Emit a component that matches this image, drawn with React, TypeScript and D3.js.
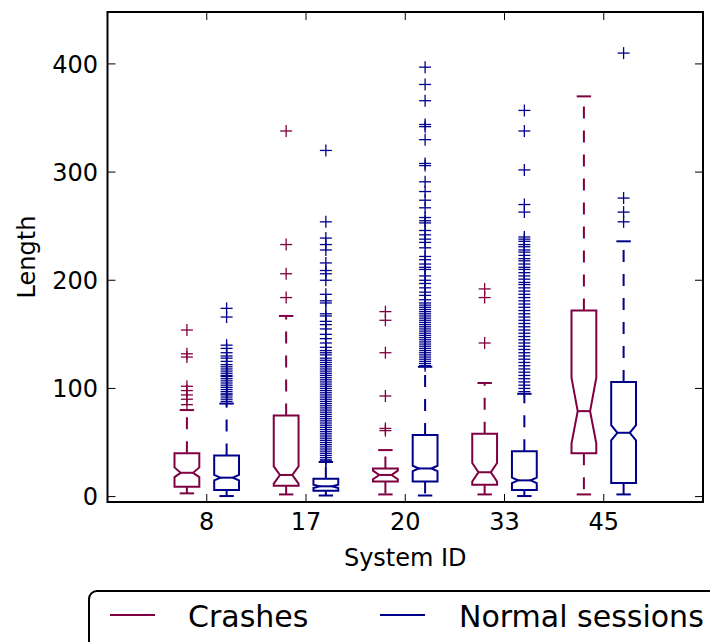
import * as d3 from "d3";

// System IDs along the x axis
const systems = ["8", "17", "20", "33", "45"];
const yTicks = [0, 100, 200, 300, 400];

// Crashes: box statistics
const crashQ1 = [9, 10, 14, 11, 40];
const crashMedian = [22, 20, 20, 22.5, 79];
const crashQ3 = [40, 75, 26, 58, 172];
const crashNotchLo = [18, 12, 16, 14, 49];
const crashNotchHi = [27, 28, 24, 31, 110];
const crashWhiskerLo = [3, 2, 2, 2, 2];
const crashWhiskerHi = [80, 167, 43, 105, 370];
const crashFliers = [
  [154, 132, 129, 102, 98, 94, 90, 85],
  [338, 233, 206, 184],
  [171, 163, 133, 93, 63, 61],
  [192, 184, 142],
  [],
];

// Normal sessions
const normalQ1 = [6, 5.5, 14, 6, 12.6];
const normalMedian = [17.5, 9.5, 26, 15, 59];
const normalQ3 = [38, 16.5, 57, 42, 106];
const normalNotchLo = [15, 8, 23.5, 12.5, 52];
const normalNotchHi = [20, 11, 28.5, 17.5, 66];
const normalWhiskerLo = [0.5, 1, 1, 0.5, 2];
const normalWhiskerHi = [86, 32, 120, 95, 236];
const normalFliers = [
  [174, 166, 140, 137, 133, 130, 128, 125, 122, 120, 118, 116, 114, 112, 111, 109,
    107, 105, 103, 101, 99, 97, 95, 94, 92, 90, 88],
  [320, 254, 239, 233, 228, 216, 209, 206, 200, 187, 181, 179, 169, 167, 162, 159,
    155, 150, 146, 142, 138, 135, 133, 131, 128, 126, 124, 122, 120, 118, 116, 114,
    112, 110, 108, 106, 104, 102, 100, 98, 96, 94, 92, 90, 88, 86, 84, 82, 80, 78,
    76, 74, 72, 70, 68, 66, 64, 62, 60, 58, 56, 54, 52, 50, 48, 46, 44, 42, 40, 38,
    36, 34, 33],
  [397, 381, 366, 344, 342, 330, 308, 306, 291, 282, 274, 267, 258, 255, 253, 246,
    242, 238, 235, 230, 222, 219, 215, 212, 210, 204, 200, 197, 193, 189, 186, 182,
    179, 177, 175, 173, 171, 169, 167, 165, 163, 161, 159, 157, 155, 153, 151, 149,
    147, 145, 143, 141, 139, 137, 135, 133, 131, 129, 127, 125, 123, 121],
  [357, 338, 302, 270, 263, 240, 238, 236, 233, 231, 228, 226, 223, 220, 218, 215,
    212, 210, 207, 204, 201, 198, 196, 193, 190, 187, 184, 181, 178, 175, 172, 169,
    166, 163, 160, 157, 154, 151, 148, 145, 142, 139, 136, 133, 130, 127, 124, 121,
    118, 115, 112, 109, 106, 103, 100, 97],
  [410, 276, 263, 254],
];

const CRASH = "#7f0040";
const NORMAL = "#00008b";

const W = 710;
const H = 642;
const AX = { left: 107.5, right: 703, top: 12, bottom: 502 };
const FONT = "'DejaVu Sans', sans-serif";

const x = d3.scaleLinear().domain([0, 6]).range([AX.left, AX.right]);
const y = d3.scaleLinear().domain([-5, 448]).range([AX.bottom, AX.top]);

const BOX_W = 0.25;
const OFFSET = 0.2;

type BoxProps = {
  pos: number;
  q1: number;
  med: number;
  q3: number;
  nlo: number;
  nhi: number;
  wlo: number;
  whi: number;
  fliers: number[];
  color: string;
};

const Box = ({ pos, q1, med, q3, nlo, nhi, wlo, whi, fliers, color }: BoxProps) => {
  const l = x(pos - BOX_W / 2);
  const r = x(pos + BOX_W / 2);
  const cl = x(pos - BOX_W / 4);
  const cr = x(pos + BOX_W / 4);
  const c = x(pos);
  const path = d3.path();
  path.moveTo(l, y(q1));
  path.lineTo(r, y(q1));
  path.lineTo(r, y(nlo));
  path.lineTo(cr, y(med));
  path.lineTo(r, y(nhi));
  path.lineTo(r, y(q3));
  path.lineTo(l, y(q3));
  path.lineTo(l, y(nhi));
  path.lineTo(cl, y(med));
  path.lineTo(l, y(nlo));
  path.closePath();
  return (
    <g stroke={color} fill="none">
      <line x1={c} x2={c} y1={y(q1)} y2={y(wlo)} strokeWidth={2} strokeDasharray="12,12" />
      <line x1={c} x2={c} y1={y(q3)} y2={y(whi)} strokeWidth={2} strokeDasharray="12,12" />
      <line x1={cl} x2={cr} y1={y(wlo)} y2={y(wlo)} strokeWidth={2} strokeLinecap="square" />
      <line x1={cl} x2={cr} y1={y(whi)} y2={y(whi)} strokeWidth={2} strokeLinecap="square" />
      <path d={path.toString()} strokeWidth={2} strokeLinejoin="miter" />
      <line x1={cl} x2={cr} y1={y(med)} y2={y(med)} strokeWidth={2} />
      {fliers.map((v, i) => (
        <g key={i} strokeWidth={1.3}>
          <line x1={c - 6} x2={c + 6} y1={y(v)} y2={y(v)} />
          <line x1={c} x2={c} y1={y(v) - 6} y2={y(v) + 6} />
        </g>
      ))}
    </g>
  );
};

export default function App() {
  return (
    <svg
      width={W}
      height={H}
      style={{ position: "absolute", left: 0, top: 0, background: "#fff" }}
      fontFamily={FONT}
    >
      <rect width={W} height={H} fill="#fff" />
      {systems.map((s, i) => (
        <g key={s}>
          <Box
            pos={i + 1 - OFFSET}
            q1={crashQ1[i]}
            med={crashMedian[i]}
            q3={crashQ3[i]}
            nlo={crashNotchLo[i]}
            nhi={crashNotchHi[i]}
            wlo={crashWhiskerLo[i]}
            whi={crashWhiskerHi[i]}
            fliers={crashFliers[i]}
            color={CRASH}
          />
          <Box
            pos={i + 1 + OFFSET}
            q1={normalQ1[i]}
            med={normalMedian[i]}
            q3={normalQ3[i]}
            nlo={normalNotchLo[i]}
            nhi={normalNotchHi[i]}
            wlo={normalWhiskerLo[i]}
            whi={normalWhiskerHi[i]}
            fliers={normalFliers[i]}
            color={NORMAL}
          />
        </g>
      ))}

      {/* ticks, inside on all four sides */}
      {systems.map((s, i) => (
        <g key={s} stroke="#000" strokeWidth={1}>
          <line x1={x(i + 1)} x2={x(i + 1)} y1={AX.bottom} y2={AX.bottom - 8} />
          <line x1={x(i + 1)} x2={x(i + 1)} y1={AX.top} y2={AX.top + 8} />
        </g>
      ))}
      {yTicks.map((t) => (
        <g key={t} stroke="#000" strokeWidth={1}>
          <line x1={AX.left} x2={AX.left + 8} y1={y(t)} y2={y(t)} />
          <line x1={AX.right} x2={AX.right - 8} y1={y(t)} y2={y(t)} />
        </g>
      ))}
      <rect
        x={AX.left}
        y={AX.top}
        width={AX.right - AX.left}
        height={AX.bottom - AX.top}
        fill="none"
        stroke="#000"
        strokeWidth={2}
      />

      {/* tick labels */}
      {systems.map((s, i) => (
        <text key={s} x={x(i + 1)} y={530} fontSize={24} textAnchor="middle">
          {s}
        </text>
      ))}
      {yTicks.map((t) => (
        <text key={t} x={98} y={y(t) + 8.7} fontSize={24} textAnchor="end">
          {t}
        </text>
      ))}

      <text x={(AX.left + AX.right) / 2} y={566} fontSize={24} textAnchor="middle">
        System ID
      </text>
      <text
        transform={`translate(35,${(AX.top + AX.bottom) / 2}) rotate(-90)`}
        fontSize={24}
        textAnchor="middle"
      >
        Length
      </text>

      {/* legend */}
      <rect x={89} y={591} width={660} height={90} rx={8} fill="#fff" stroke="#000" strokeWidth={2} />
      <line x1={110} x2={155} y1={615} y2={615} stroke={CRASH} strokeWidth={2} />
      <text x={188} y={627} fontSize={30}>Crashes</text>
      <line x1={380} x2={425} y1={615} y2={615} stroke={NORMAL} strokeWidth={2} />
      <text x={459} y={627} fontSize={30}>Normal sessions</text>
    </svg>
  );
}
